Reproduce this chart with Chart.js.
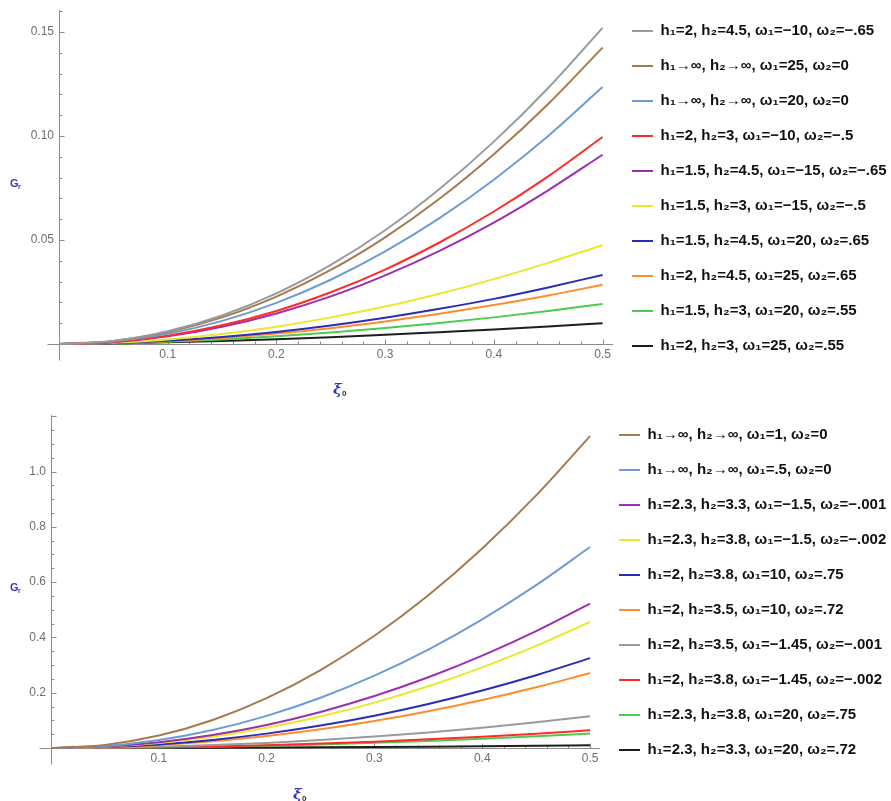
<!DOCTYPE html>
<html>
<head>
<meta charset="utf-8">
<script src="https://cdn.jsdelivr.net/npm/chart.js@4.4.1/dist/chart.umd.min.js"></script>
<style>
  html, body { margin: 0; padding: 0; background: #fff; }
  .panel { position: absolute; left: 0; width: 891px; height: 400px; }
</style>
</head>
<body>
<div class="panel" style="top:0px"><canvas id="topChart"></canvas></div>
<div class="panel" style="top:404px"><canvas id="bottomChart"></canvas></div>
<script>
// xi_0 sample points shared by both panels
const xi = [0, 0.05, 0.1, 0.15, 0.2, 0.25, 0.3, 0.35, 0.4, 0.45, 0.5];

// ---- top panel ----
const topLabels = [
  'h₁=2, h₂=4.5, ω₁=−10, ω₂=−.65',
  'h₁→∞, h₂→∞, ω₁=25, ω₂=0',
  'h₁→∞, h₂→∞, ω₁=20, ω₂=0',
  'h₁=2, h₂=3, ω₁=−10, ω₂=−.5',
  'h₁=1.5, h₂=4.5, ω₁=−15, ω₂=−.65',
  'h₁=1.5, h₂=3, ω₁=−15, ω₂=−.5',
  'h₁=1.5, h₂=4.5, ω₁=20, ω₂=.65',
  'h₁=2, h₂=4.5, ω₁=25, ω₂=.65',
  'h₁=1.5, h₂=3, ω₁=20, ω₂=.55',
  'h₁=2, h₂=3, ω₁=25, ω₂=.55'
];
const topGray      = [0, 0.0015, 0.0061, 0.0137, 0.0243, 0.0380, 0.0547, 0.0745, 0.0973, 0.1231, 0.1520];
const topBrown     = [0, 0.0014, 0.0057, 0.0128, 0.0228, 0.0356, 0.0513, 0.0698, 0.0912, 0.1154, 0.1425];
const topLightBlue = [0, 0.0012, 0.0049, 0.0111, 0.0198, 0.0309, 0.0445, 0.0605, 0.0790, 0.1000, 0.1235];
const topRed       = [0, 0.0010, 0.0040, 0.0090, 0.0159, 0.0249, 0.0358, 0.0488, 0.0637, 0.0806, 0.0995];
const topPurple    = [0, 0.0009, 0.0037, 0.0083, 0.0147, 0.0229, 0.0330, 0.0448, 0.0584, 0.0739, 0.0910];
const topYellow    = [0, 0.0006, 0.0022, 0.0048, 0.0083, 0.0128, 0.0180, 0.0242, 0.0312, 0.0390, 0.0476];
const topBlue      = [0, 0.0004, 0.0016, 0.0034, 0.0058, 0.0089, 0.0126, 0.0169, 0.0217, 0.0272, 0.0332];
const topOrange    = [0, 0.0004, 0.0013, 0.0029, 0.0050, 0.0076, 0.0108, 0.0145, 0.0187, 0.0233, 0.0285];
const topGreen     = [0, 0.0003, 0.0011, 0.0022, 0.0037, 0.0055, 0.0077, 0.0101, 0.0128, 0.0159, 0.0192];
const topBlack     = [0, 0.0003, 0.0008, 0.0015, 0.0023, 0.0033, 0.0044, 0.0057, 0.0070, 0.0084, 0.0100];

// ---- bottom panel ----
const bottomLabels = [
  'h₁→∞, h₂→∞, ω₁=1, ω₂=0',
  'h₁→∞, h₂→∞, ω₁=.5, ω₂=0',
  'h₁=2.3, h₂=3.3, ω₁=−1.5, ω₂=−.001',
  'h₁=2.3, h₂=3.8, ω₁=−1.5, ω₂=−.002',
  'h₁=2, h₂=3.8, ω₁=10, ω₂=.75',
  'h₁=2, h₂=3.5, ω₁=10, ω₂=.72',
  'h₁=2, h₂=3.5, ω₁=−1.45, ω₂=−.001',
  'h₁=2, h₂=3.8, ω₁=−1.45, ω₂=−.002',
  'h₁=2.3, h₂=3.8, ω₁=20, ω₂=.75',
  'h₁=2.3, h₂=3.3, ω₁=20, ω₂=.72'
];
const botBrown     = [0, 0.0113, 0.0451, 0.1015, 0.1805, 0.2820, 0.4061, 0.5527, 0.7219, 0.9137, 1.128];
const botLightBlue = [0, 0.0073, 0.0291, 0.0654, 0.1163, 0.1818, 0.2617, 0.3562, 0.4653, 0.5889, 0.727];
const botPurple    = [0, 0.0052, 0.0209, 0.0470, 0.0835, 0.1305, 0.1879, 0.2558, 0.3341, 0.4228, 0.522];
const botYellow    = [0, 0.0046, 0.0182, 0.0410, 0.0730, 0.1140, 0.1642, 0.2234, 0.2918, 0.3694, 0.456];
const botBlue      = [0, 0.0033, 0.0130, 0.0293, 0.0520, 0.0813, 0.1170, 0.1593, 0.2080, 0.2633, 0.325];
const botOrange    = [0, 0.0027, 0.0108, 0.0244, 0.0434, 0.0678, 0.0976, 0.1328, 0.1734, 0.2195, 0.271];
const botGray      = [0, 0.0012, 0.0046, 0.0104, 0.0184, 0.0288, 0.0414, 0.0564, 0.0736, 0.0932, 0.115];
const botRed       = [0, 0.0006, 0.0026, 0.0058, 0.0102, 0.0160, 0.0230, 0.0314, 0.0410, 0.0518, 0.064];
const botGreen     = [0, 0.0005, 0.0021, 0.0047, 0.0083, 0.0130, 0.0187, 0.0255, 0.0333, 0.0421, 0.052];
const botBlack     = [0, 0.0001, 0.0004, 0.0009, 0.0016, 0.0025, 0.0036, 0.0049, 0.0064, 0.0081, 0.010];

const C = {
  gray: '#9a9a9a', brown: '#a47a4e', lightBlue: '#6f9bd5', red: '#ff2a2a', purple: '#9c2fb0',
  yellow: '#e9e92c', blue: '#2c2cb6', orange: '#ff8c2e', green: '#4ccc4c', black: '#1e1e1e'
};

const topSeries = [topGray, topBrown, topLightBlue, topRed, topPurple, topYellow, topBlue, topOrange, topGreen, topBlack];
const topColors = [C.gray, C.brown, C.lightBlue, C.red, C.purple, C.yellow, C.blue, C.orange, C.green, C.black];
const botSeries = [botBrown, botLightBlue, botPurple, botYellow, botBlue, botOrange, botGray, botRed, botGreen, botBlack];
const botColors = [C.brown, C.lightBlue, C.purple, C.yellow, C.blue, C.orange, C.gray, C.red, C.green, C.black];

function makeDatasets(labels, series, colors) {
  return series.map((ys, i) => ({
    label: labels[i],
    data: ys.map((y, k) => ({ x: xi[k], y: y })),
    borderColor: colors[i],
    backgroundColor: colors[i],
    borderWidth: 2,
    pointRadius: 0,
    cubicInterpolationMode: 'monotone',
    clip: false
  }));
}

// Mathematica-like axes: lines through the origin, inward major/minor ticks, axis labels
const mathAxes = {
  id: 'mathAxes',
  beforeDatasetsDraw(chart, args, o) {
    const { ctx, chartArea: a, scales: { x, y } } = chart;
    const x0 = Math.round(x.getPixelForValue(0)) + 0.5;
    const y0 = Math.round(y.getPixelForValue(0)) + 0.5;
    ctx.save();
    ctx.strokeStyle = '#8c8c8c';
    ctx.lineWidth = 1;
    ctx.beginPath();
    ctx.moveTo(x0, y.getPixelForValue(o.yTop)); ctx.lineTo(x0, y0 + 16);
    ctx.moveTo(x0 - 12, y0); ctx.lineTo(a.right + 1, y0);
    const ny = Math.floor(o.yTop / o.yMinor + 1e-6);
    for (let i = 1; i <= ny; i++) {
      const py = Math.round(y.getPixelForValue(i * o.yMinor)) + 0.5;
      const len = i % o.yEvery === 0 ? 5 : 3;
      ctx.moveTo(x0, py); ctx.lineTo(x0 + len, py);
    }
    const nx = Math.round(0.5 / o.xMinor);
    for (let i = 1; i <= nx; i++) {
      const px = Math.round(x.getPixelForValue(i * o.xMinor)) + 0.5;
      const len = i % o.xEvery === 0 ? 5 : 3;
      ctx.moveTo(px, y0); ctx.lineTo(px, y0 - len);
    }
    ctx.stroke();
    ctx.restore();
  },
  afterDraw(chart, args, o) {
    const ctx = chart.ctx;
    ctx.save();
    ctx.textBaseline = 'alphabetic';
    ctx.fillStyle = '#3535c0';
    ctx.font = 'bold 11px "Liberation Sans", Arial, sans-serif';
    ctx.fillText('G', 10, 187);
    ctx.font = 'bold 7px "Liberation Sans", Arial, sans-serif';
    ctx.fillText('r', 18, 189);
    ctx.font = 'bold italic 15px "DejaVu Serif", serif';
    ctx.fillText('ξ', o.xiX, o.xiY);
    ctx.fillStyle = '#333';
    ctx.font = 'bold 8px "Liberation Sans", Arial, sans-serif';
    ctx.fillText('0', o.xiX + 9, o.xiY + 2);
    ctx.restore();
  }
};

function isStep(v, step) {
  const r = v / step;
  return v > 1e-9 && Math.abs(r - Math.round(r)) < 1e-6;
}

function makeChart(id, labels, series, colors, cfg) {
  return new Chart(document.getElementById(id), {
    type: 'line',
    data: { datasets: makeDatasets(labels, series, colors) },
    plugins: [mathAxes],
    options: {
      responsive: true,
      maintainAspectRatio: false,
      animation: false,
      layout: { padding: { top: 3, bottom: 26, left: 0, right: 0 } },
      scales: {
        x: {
          type: 'linear',
          min: 0,
          max: cfg.xMax,
          border: { display: false },
          grid: { display: false, drawTicks: false },
          ticks: {
            stepSize: 0.1,
            includeBounds: false,
            autoSkip: false,
            maxRotation: 0,
            padding: 3,
            color: '#6e6e6e',
            font: { size: 12, family: '"Liberation Sans", Arial, sans-serif' },
            callback: v => isStep(v, 0.1) ? v.toFixed(1) : ''
          },
          afterFit: s => { s.height = 30; s.paddingLeft = 0; s.paddingRight = 0; }
        },
        y: {
          min: 0,
          max: cfg.yMax,
          border: { display: false },
          grid: { display: false, drawTicks: false },
          ticks: {
            stepSize: cfg.yStep,
            includeBounds: false,
            autoSkip: false,
            padding: 5,
            color: '#6e6e6e',
            font: { size: 12, family: '"Liberation Sans", Arial, sans-serif' },
            callback: v => (isStep(v, cfg.yStep) && v <= cfg.yLabelMax + 1e-9) ? v.toFixed(cfg.yDigits) : ''
          },
          afterFit: s => { s.width = cfg.yAxisWidth; s.paddingTop = 0; s.paddingBottom = 0; }
        }
      },
      plugins: {
        tooltip: { enabled: false },
        legend: {
          position: 'right',
          maxWidth: cfg.legendWidth,
          labels: {
            boxWidth: 21,
            boxHeight: 0,
            padding: 20,
            color: '#111',
            font: { size: 15, weight: 'bold', family: '"Liberation Sans", Arial, sans-serif' }
          }
        },
        mathAxes: cfg.axes
      }
    }
  });
}

makeChart('topChart', topLabels, topSeries, topColors, {
  xMax: 0.5087, yMax: 0.16394, yStep: 0.05, yDigits: 2, yLabelMax: 0.15,
  yAxisWidth: 59, legendWidth: 279,
  axes: { yTop: 0.1606, yMinor: 0.01, yEvery: 5, xMinor: 0.02, xEvery: 5, xiX: 333, xiY: 394 }
});

makeChart('bottomChart', bottomLabels, botSeries, botColors, {
  xMax: 0.5083, yMax: 1.2333, yStep: 0.2, yDigits: 1, yLabelMax: 1.0,
  yAxisWidth: 51, legendWidth: 292,
  axes: { yTop: 1.204, yMinor: 0.05, yEvery: 4, xMinor: 0.02, xEvery: 5, xiX: 293, xiY: 395 }
});
</script>
</body>
</html>
